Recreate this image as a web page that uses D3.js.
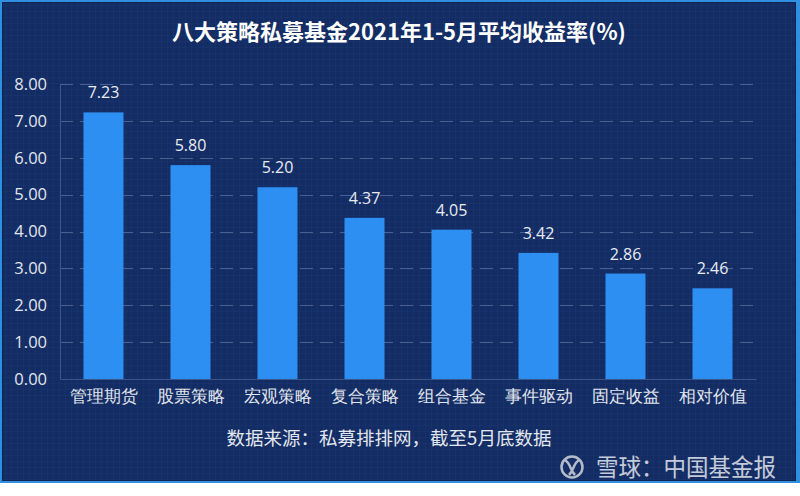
<!DOCTYPE html>
<html><head><meta charset="utf-8">
<script src="https://cdn.jsdelivr.net/npm/d3@7"></script>
<style>
html,body{margin:0;padding:0;background:#fff;}
svg{display:block;font-family:"Noto Sans CJK SC","Noto Sans",sans-serif;}
</style></head>
<body><svg id="c" width="800" height="496"></svg>
<script>
const title = "八大策略私募基金2021年1-5月平均收益率(%)";
const categories = ["管理期货","股票策略","宏观策略","复合策略","组合基金","事件驱动","固定收益","相对价值"];
const values = [7.23,5.80,5.20,4.37,4.05,3.42,2.86,2.46];
const yTicks = [0,1,2,3,4,5,6,7,8];
const source = "数据来源：私募排排网，截至5月底数据";
const watermark = "雪球：中国基金报";

const svg = d3.select("#c");
const defs = svg.append("defs");
const pat = defs.append("pattern").attr("id","grid").attr("width",6).attr("height",6).attr("patternUnits","userSpaceOnUse");
pat.append("rect").attr("width",6).attr("height",6).attr("fill","#132c63");
pat.append("path").attr("d","M6 0 V6 M0 6 H6").attr("stroke","#1b3670").attr("stroke-width",1).attr("fill","none");

// frame
svg.append("rect").attr("x",0).attr("y",0).attr("width",800).attr("height",483).attr("fill","#2f8fe0");
svg.append("rect").attr("x",2).attr("y",2).attr("width",794).attr("height",479).attr("fill","url(#grid)");
svg.append("rect").attr("x",2.5).attr("y",2.5).attr("width",793).attr("height",478).attr("fill","none").attr("stroke","#0f2450").attr("stroke-width",1);

const m = {left:60, right:44, top:84, bottom:117};
const W = 800, H = 496;
const x = d3.scaleBand().domain(categories).range([m.left, W-m.right]).paddingInner(0.54).paddingOuter(0.27);
const y = d3.scaleLinear().domain([0,8]).range([H-m.bottom, m.top]);

// gridlines
svg.append("g").selectAll("line").data(yTicks.filter(d=>d>0)).join("line")
  .attr("x1",m.left).attr("x2",W-m.right)
  .attr("y1",d=>Math.round(y(d))+0.5).attr("y2",d=>Math.round(y(d))+0.5)
  .attr("stroke","#4a6090").attr("stroke-width",1).attr("stroke-dasharray","13,7");

// y axis
const yAxis = svg.append("g").attr("transform",`translate(${m.left},0)`)
  .call(d3.axisLeft(y).tickValues(yTicks).tickFormat(d3.format(".2f")).tickSize(0).tickPadding(13));
yAxis.select(".domain").attr("stroke","#3d5488");
yAxis.selectAll("text").attr("fill","#e2e6ee").attr("font-size",16.5).attr("font-family","'Open Sans','Noto Sans',sans-serif");

// x axis
const xAxis = svg.append("g").attr("transform",`translate(0,${y(0)})`)
  .call(d3.axisBottom(x).tickSize(0).tickPadding(11));
xAxis.select(".domain").attr("stroke","#3d5488");
xAxis.selectAll("text").attr("fill","#e2e6ee").attr("font-size",16.5);

// bars
svg.append("g").selectAll("rect").data(values).join("rect")
  .attr("x",(d,i)=>x(categories[i])).attr("width",x.bandwidth())
  .attr("y",d=>y(d)).attr("height",d=>y(0)-y(d))
  .attr("fill","#2d8ff2");

// value labels
svg.append("g").selectAll("text").data(values).join("text")
  .attr("x",(d,i)=>x(categories[i])+x.bandwidth()/2).attr("y",d=>y(d)-14)
  .attr("text-anchor","middle").attr("fill","#e8ebf2").attr("font-size",16)
  .attr("font-family","'Open Sans','Noto Sans',sans-serif")
  .text(d=>d.toFixed(2));

// title
svg.append("text").attr("x",399).attr("y",40).attr("text-anchor","middle")
  .attr("fill","#ffffff").attr("font-size",22).attr("font-weight","bold").text(title);

// source
svg.append("text").attr("x",389).attr("y",445).attr("text-anchor","middle")
  .attr("fill","#e2e6ee").attr("font-size",18.5).text(source);

// watermark
const wm = svg.append("g").attr("opacity",0.85);
wm.append("circle").attr("cx",572).attr("cy",467).attr("r",10.5).attr("fill","none").attr("stroke","#d0d4dc").attr("stroke-width",2.5);
wm.append("path").attr("d","M565 460 C571 464, 570 470, 575 475 M579 460 C573 464, 574 470, 569 475").attr("fill","none").attr("stroke","#d0d4dc").attr("stroke-width",2.5);
wm.append("text").attr("x",596).attr("y",476).attr("fill","#e4e6ec").attr("font-size",24).attr("textLength",180).attr("lengthAdjust","spacingAndGlyphs").text(watermark);
</script></body></html>
